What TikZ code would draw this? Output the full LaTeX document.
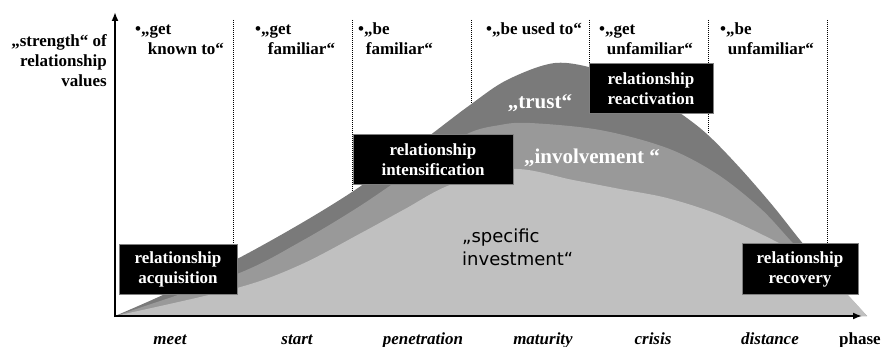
\documentclass[tikz,border=0pt]{standalone}
\usepackage{fontspec}
\setmainfont{Liberation Serif}
\newfontfamily\sansf{DejaVu Sans}
\usetikzlibrary{arrows.meta}
\definecolor{trustc}{RGB}{122,122,122}
\definecolor{involc}{RGB}{153,153,153}
\definecolor{investc}{RGB}{192,192,192}
\tikzset{
  lab/.style={font=\fontsize{17}{20}\selectfont\bfseries, align=left, inner sep=0pt, anchor=north west},
  phaselab/.style={font=\fontsize{17}{20}\selectfont\bfseries\itshape, inner sep=0pt, anchor=base},
  boxn/.style={fill=black, draw=gray, line width=1pt, text=white, font=\fontsize{17}{20}\selectfont\bfseries, align=center, inner sep=0pt, minimum height=50pt},
  divider/.style={densely dotted, line width=1pt},
  axisline/.style={line width=1.8pt, -{Latex[length=9pt,width=7pt]}},
  curvelab/.style={font=\fontsize{21}{24}\selectfont\bfseries, text=white, inner sep=0pt}
}
\begin{document}
\begin{tikzpicture}[x=1pt,y=-1pt]
\useasboundingbox (0,0) rectangle (883,347);
% areas
\fill[trustc] plot[smooth, tension=0.55] coordinates {(115,316) (165,294) (237,259) (300,224) (352,192) (400,158) (433,133) (470,105) (507,80) (555,63) (600,70) (640,86) (680,113) (708,135) (740,168) (773,206) (800,240) (830,276) (867,316)} -- cycle;
\fill[involc] plot[smooth, tension=0.55] coordinates {(115,316) (237,274) (300,242) (360,206) (420,165) (467,134) (500,125) (530,123) (600,130) (667,148) (717,174) (760,208) (790,240) (830,284) (862,316)} -- cycle;
\fill[investc] plot[smooth, tension=0.55] coordinates {(115,316) (237,288) (300,265) (363,232) (405,209) (450,185) (513,169) (573,180) (620,189) (667,198) (717,214) (767,237) (805,258) (840,287) (867,316)} -- cycle;
% named points for dividers
\coordinate (d1t) at (233,20); \coordinate (d1b) at (233,245);
\coordinate (d2t) at (352,20); \coordinate (d2b) at (352,192);
\coordinate (d3t) at (471,20); \coordinate (d3b) at (471,104);
\coordinate (d4t) at (589,20); \coordinate (d4b) at (589,64);
\coordinate (d5t) at (708,20); \coordinate (d5b) at (708,134);
\coordinate (d6t) at (827,20); \coordinate (d6b) at (827,244);
\draw[divider] (d1t) -- (d1b);
\draw[divider] (d2t) -- (d2b);
\draw[divider] (d3t) -- (d3b);
\draw[divider] (d4t) -- (d4b);
\draw[divider] (d5t) -- (d5b);
\draw[divider] (d6t) -- (d6b);
% axes
\coordinate (o) at (115,316);
\coordinate (ytip) at (115,12);
\coordinate (xtip) at (862,316);
\draw[axisline] (115,317) -- (ytip);
\draw[axisline] (114,316) -- (xtip);
% boxes
\node[boxn, minimum width=118pt] (acq) at (178,269.5) {relationship\\acquisition};
\node[boxn, minimum width=160pt] (int) at (433,160) {relationship\\intensification};
\node[boxn, minimum width=124pt] (react) at (651,89) {relationship\\reactivation};
\node[boxn, minimum width=116pt] (rec) at (800,269) {relationship\\recovery};
% curve labels
\node[curvelab] (trust) at (540,103) {„trust“};
\node[curvelab] (invol) at (592,158) {„involvement “};
\node[inner sep=0pt, anchor=north west, align=left, font=\sansf\fontsize{18}{23}\selectfont] (inv) at (462,226) {\strut„specific\\investment“};
% axis label
\node[lab, anchor=north east, align=right] (ylab) at (107,32) {\strut„strength“ of\\relationship\\values};
% top labels
\node[lab] (t1) at (135,20) {\strut•„get\\\hspace*{0.75em}known to“};
\node[lab] (t2) at (255,20) {\strut•„get\\\hspace*{0.75em}familiar“};
\node[lab] (t3) at (358,20) {\strut•„be\\\hspace*{0.45em}familiar“};
\node[lab] (t4) at (486,20) {\strut•„be used to“};
\node[lab] (t5) at (599,20) {\strut•„get\\\hspace*{0.45em}unfamiliar“};
\node[lab] (t6) at (720,20) {\strut•„be\\\hspace*{0.45em}unfamiliar“};
% phase labels
\node[phaselab] (p1) at (170,344) {meet};
\node[phaselab] (p2) at (297,344) {start};
\node[phaselab] (p3) at (423,344) {penetration};
\node[phaselab] (p4) at (543,344) {maturity};
\node[phaselab] (p5) at (653,344) {crisis};
\node[phaselab] (p6) at (770,344) {distance};
\node[inner sep=0pt, anchor=base, font=\fontsize{17}{20}\selectfont\bfseries] (p7) at (860,344) {phase};
\end{tikzpicture}
\end{document}
